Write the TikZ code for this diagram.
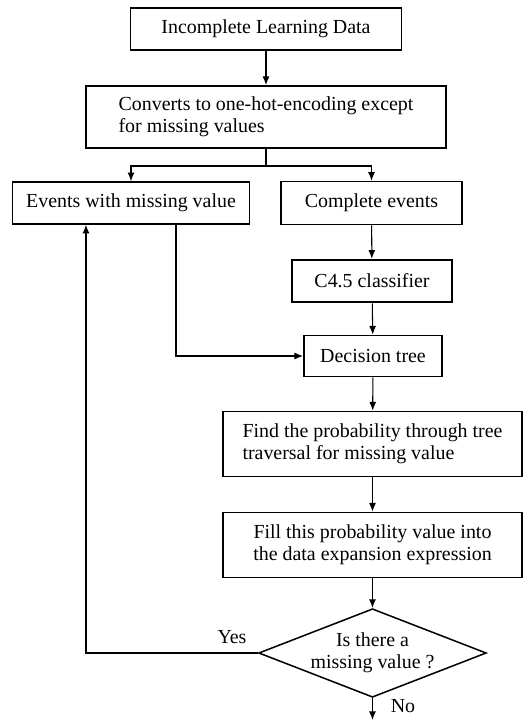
\documentclass[tikz,border=0pt]{standalone}
\usepackage{fontspec}
\setmainfont{Liberation Serif}
\usepackage{tikz}
\usetikzlibrary{arrows.meta, calc, shapes.geometric}

\tikzset{
    stepbox/.style={draw, line width=1.6pt, inner sep=0pt, align=center},
    arr/.style={line width=0.9pt, -{Latex[length=2.6mm, width=2.1mm]}},
    plain/.style={line width=0.9pt}
}

\begin{document}
\begin{tikzpicture}[x=0.03cm, y=-0.03cm, font=\fontsize{17}{19}\selectfont]
    \useasboundingbox (0,0) rectangle (529,721);

    % --- TOP: INPUT AND ENCODING ---
    \node[stepbox, minimum width=8.13cm, minimum height=1.26cm] (data) at (266,29) {Incomplete Learning Data};
    \node[stepbox, minimum width=10.8cm, minimum height=1.86cm, align=left] (encode) at (266,117)
        {Converts to one-hot-encoding except\\for missing values};
    \coordinate (split) at (266,166);

    % --- TWO BRANCHES ---
    \node[stepbox, line width=1.4pt, minimum width=7.11cm, minimum height=1.26cm] (missing) at (131,203) {Events with missing value};
    \node[stepbox, line width=1.4pt, minimum width=5.43cm, minimum height=1.29cm] (complete) at (371.5,203) {Complete events};

    % --- TREE BUILDING ---
    \node[stepbox, line width=2.2pt, minimum width=4.8cm, minimum height=1.26cm] (c45) at (372,281) {C4.5 classifier};
    \node[stepbox, minimum width=4.14cm, minimum height=1.23cm] (tree) at (373,356) {Decision tree};
    \node[stepbox, minimum width=8.97cm, minimum height=1.95cm, align=left] (prob) at (372.5,444)
        {Find the probability through tree\\traversal for missing value};
    \node[stepbox, minimum width=8.97cm, minimum height=1.95cm] (fill) at (372.5,545)
        {Fill this probability value into\\the data expansion expression};

    % --- DECISION ---
    \node[diamond, draw, line width=1.3pt, inner sep=0pt, aspect=2.57, minimum width=6.63cm, align=center] (check) at (372.5,653)
        {Is there a\\missing value ?};
    \coordinate (done) at (372.5,720);

    % Connectors
    \draw[arr] (data) -- (encode);
    \draw[plain] (encode) -- (split);
    \draw[arr] (split) -| (missing);
    \draw[arr] (split) -| (complete);
    \draw[arr] (complete) -- (c45);
    \draw[arr] (c45) -- (tree);
    \draw[arr] ([xshift=1.35cm]missing.south) |- (tree.west);
    \draw[arr] (tree) -- (prob);
    \draw[arr] (prob) -- (fill);
    \draw[arr] (fill) -- (check);
    \draw[arr] (check.west) -| ([xshift=-1.35cm]missing.south);
    \draw[arr] (check.south) -- (done);

    % Labels
    \node[anchor=base] (yes) at (232,643) {Yes};
    \node[anchor=base] (no) at (403,712) {No};
\end{tikzpicture}
\end{document}
